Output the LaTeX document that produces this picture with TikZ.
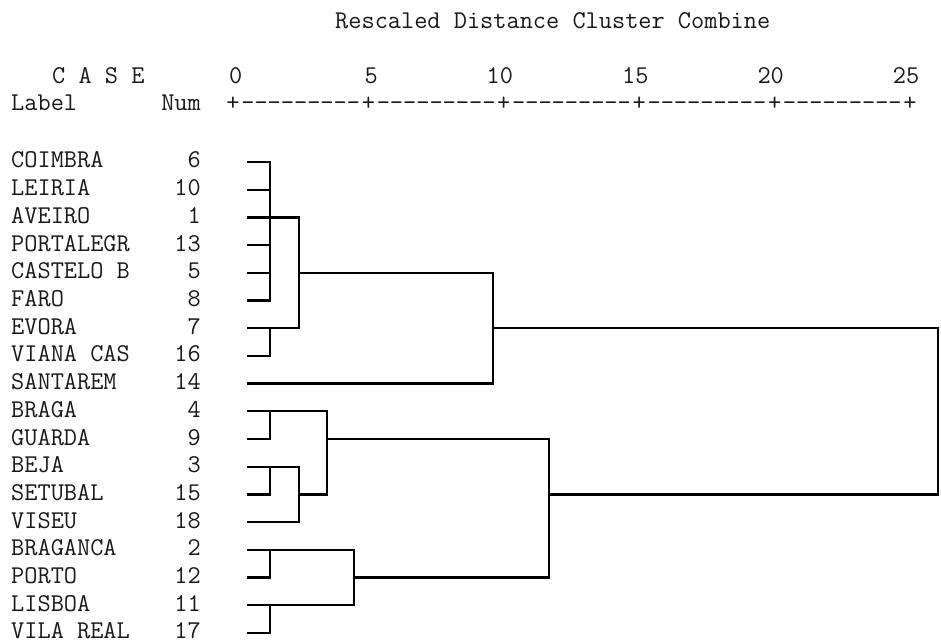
\documentclass[tikz,border=0pt]{standalone}
\newcommand\dsh{-\kern0pt}
\newcommand\nined{\dsh\dsh\dsh\dsh\dsh\dsh\dsh\dsh\dsh}
\begin{document}
\begin{tikzpicture}[x=1pt,y=-1pt,
  txt/.style={font=\ttfamily\fontsize{25.6}{30}\selectfont, inner sep=0pt, text=black!90},
  dline/.style={line width=2.3pt, line cap=rect, line join=miter}]
\useasboundingbox (0,0) rectangle (941,644);
% header
\node[txt, anchor=base west] (title) at (335,29) {Rescaled Distance Cluster Combine};
\node[txt, anchor=base west] (case) at (52,84) {C A S E};
\node[txt, anchor=base west] (label) at (11,111) {Label};
\node[txt, anchor=base east] (numh) at (201,111) {Num};
\foreach \k/\v in {0/0,1/5,2/10,3/15,4/20,5/25}{
  \node[txt, anchor=base east] (tick\k) at ({233+135.4*\k+9.5},84) {\v};
  \node[txt, anchor=base] (plus\k) at ({233+135.4*\k},111) {+};
}
\foreach \k in {0,...,4}
  \node[txt, anchor=base] (dash\k) at ({233+135.4*\k+67.7},111) {\nined};
% rows
\foreach \i/\lab/\num in {0/COIMBRA/6,1/LEIRIA/10,2/AVEIRO/1,3/PORTALEGR/13,4/CASTELO B/5,5/FARO/8,6/EVORA/7,7/VIANA CAS/16,8/SANTAREM/14,9/BRAGA/4,10/GUARDA/9,11/BEJA/3,12/SETUBAL/15,13/VISEU/18,14/BRAGANCA/2,15/PORTO/12,16/LISBOA/11,17/VILA REAL/17}{
  \node[txt, anchor=base west] (lab\i) at (11,{162+27.7*\i+6}) {\lab};
  \node[txt, anchor=base east] (num\i) at (201,{162+27.7*\i+6}) {\num};
  \coordinate (L\i) at (248,{162+27.7*\i});
}
% merge points
\coordinate (A) at (270,{162+27.7*2});
\coordinate (B) at (270,{162+27.7*6});
\coordinate (AB) at (299,{162+27.7*4});
\coordinate (ABS) at (493,{162+27.7*6});
\coordinate (C) at (270,{162+27.7*9});
\coordinate (D) at (270,{162+27.7*11});
\coordinate (DV) at (299,{162+27.7*12});
\coordinate (CDV) at (327,{162+27.7*10});
\coordinate (E) at (270,{162+27.7*14});
\coordinate (F) at (270,{162+27.7*16});
\coordinate (EF) at (354,{162+27.7*15});
\coordinate (LOW) at (549,{162+27.7*12});
\coordinate (RT) at (938,{162+27.7*6});
\coordinate (RB) at (938,{162+27.7*12});
% cluster A: rows 0-5
\foreach \i in {0,...,5} \draw[dline] (L\i) -- (L\i -| A);
\draw[dline] (L0 -| A) -- (L5 -| A);
% cluster B: rows 6-7
\draw[dline] (L6) -| (L7 -| B) -- (L7);
% A + B
\draw[dline] (A) -| (B -| AB) -- (B);
% AB + SANTAREM
\draw[dline] (AB) -| (L8 -| ABS) -- (L8);
% lower
\draw[dline] (L9) -| (L10 -| C) -- (L10);
\draw[dline] (L11) -| (L12 -| D) -- (L12);
\draw[dline] (D) -| (L13 -| DV) -- (L13);
\draw[dline] (C) -| (DV -| CDV) -- (DV);
\draw[dline] (L14) -| (L15 -| E) -- (L15);
\draw[dline] (L16) -| (L17 -| F) -- (L17);
\draw[dline] (E) -| (F -| EF) -- (F);
\draw[dline] (CDV) -| (EF -| LOW) -- (EF);
% root
\draw[dline] (ABS) -- (RT) -- (RB) -- (LOW);
\end{tikzpicture}
\end{document}
